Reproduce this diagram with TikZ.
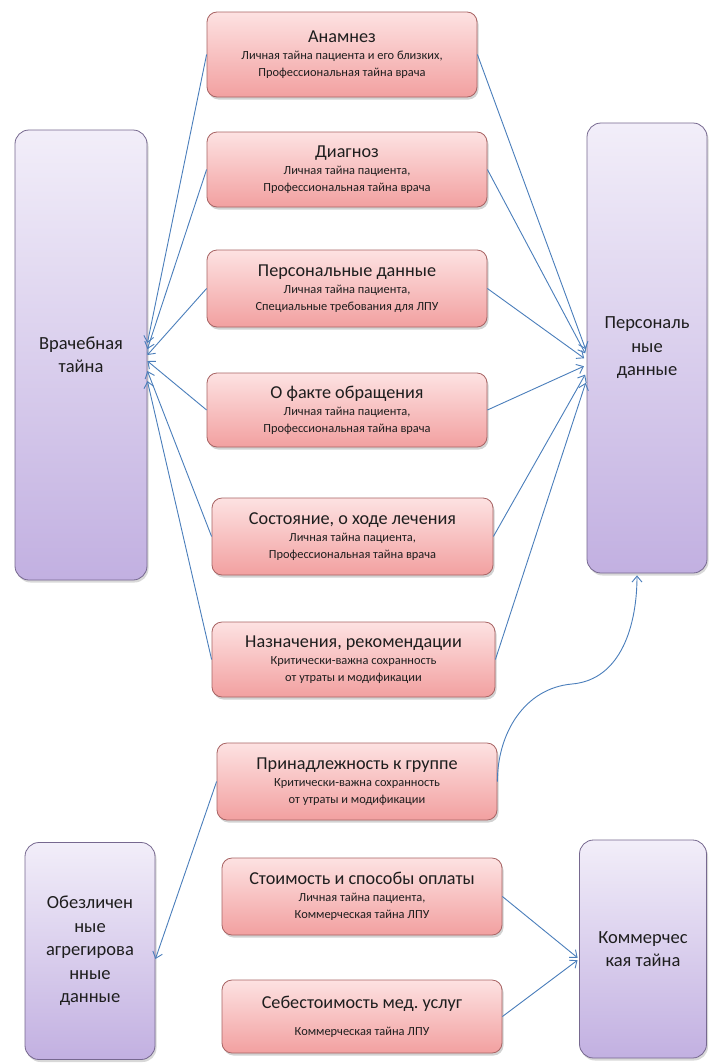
\documentclass[tikz,border=0pt]{standalone}
\usepackage{fontspec}
\setmainfont{Carlito}
\usetikzlibrary{arrows.meta,shadows}
\definecolor{redtop}{HTML}{FDE2E2}
\definecolor{redbot}{HTML}{F2A0A0}
\definecolor{redline}{HTML}{A86464}
\definecolor{purtop}{HTML}{F2EEF9}
\definecolor{purbot}{HTML}{C2B0E1}
\definecolor{purline}{HTML}{76688F}
\definecolor{arrowblue}{HTML}{4A7EBB}
\definecolor{txt}{HTML}{1E1E1E}
\frenchspacing
\newcommand{\ttl}[1]{{\fontsize{18.2}{20}\selectfont #1}}
\begin{document}
\begin{tikzpicture}[x=1pt,y=-1pt,
  redbox/.style={draw=redline, line width=0.8pt, rounded corners=10pt,
    top color=redtop, bottom color=redbot, inner sep=0pt, align=center,
    text=txt, font=\fontsize{12.4}{17}\selectfont,
    drop shadow={opacity=0.35, shadow xshift=1.5pt, shadow yshift=-2.5pt}},
  purbox/.style={draw=purline, line width=0.8pt, rounded corners=14pt,
    top color=purtop, bottom color=purbot, inner sep=0pt, align=center,
    text=txt, font=\fontsize{18.5}{23.5}\selectfont,
    drop shadow={opacity=0.3, shadow xshift=1.5pt, shadow yshift=-2.5pt}},
  conn/.style={draw=arrowblue, line width=0.9pt,
    -{Straight Barb[length=6pt,width=10pt]}}
]
\useasboundingbox[fill=white] (0,0) rectangle (709,1063);

% purple boxes
\node[purbox, minimum width=132pt, minimum height=450pt] (L1) at (81,355) {Врачебная\\тайна};
\node[purbox, minimum width=120pt, minimum height=450pt] (R1) at (647,348) {Персональ\\ные\\данные};
\node[purbox, minimum width=130pt, minimum height=217pt] (L2) at (90,951) {Обезличен\\ные\\агрегирова\\нные\\данные};
\node[purbox, minimum width=127pt, minimum height=218pt] (R2) at (643,949) {Коммерчес\\кая тайна};

% red boxes
\node[redbox, minimum width=270pt, minimum height=85pt] (b1) at (342,54.5)
  {\ttl{Анамнез}\\Личная тайна пациента и его близких,\\Профессиональная тайна врача};
\node[redbox, minimum width=280pt, minimum height=75pt] (b2) at (347,169.5)
  {\ttl{Диагноз}\\Личная тайна пациента,\\Профессиональная тайна врача};
\node[redbox, minimum width=280pt, minimum height=77pt] (b3) at (347,288.5)
  {\ttl{Персональные данные}\\Личная тайна пациента,\\Специальные требования для ЛПУ};
\node[redbox, minimum width=280pt, minimum height=74pt] (b4) at (347,410)
  {\ttl{О факте обращения}\\Личная тайна пациента,\\Профессиональная тайна врача};
\node[redbox, minimum width=281pt, minimum height=77pt] (b5) at (352.5,536.5)
  {\ttl{Состояние, о ходе лечения}\\Личная тайна пациента,\\Профессиональная тайна врача};
\node[redbox, minimum width=283pt, minimum height=75pt] (b6) at (353.5,659.5)
  {\ttl{Назначения, рекомендации}\\Критически-важна сохранность\\от утраты и модификации};
\node[redbox, minimum width=280pt, minimum height=77pt] (b7) at (357,781.5)
  {\ttl{Принадлежность к группе}\\Критически-важна сохранность\\от утраты и модификации};
\node[redbox, minimum width=280pt, minimum height=77pt] (b8) at (362,896.5)
  {\ttl{Стоимость и способы оплаты}\\Личная тайна пациента,\\Коммерческая тайна ЛПУ};
\node[redbox, minimum width=280pt, minimum height=73pt] (b9) at (362,1016.5)
  {\ttl{Себестоимость мед. услуг}\\[10pt]Коммерческая тайна ЛПУ};

% connectors to Врачебная тайна
\draw[conn] (b1.west) -- ([yshift=12pt]L1.east);
\draw[conn] (b2.west) -- ([yshift=6pt]L1.east);
\draw[conn] (b3.west) -- (L1.east);
\draw[conn] (b4.west) -- ([yshift=-6pt]L1.east);
\draw[conn] (b5.west) -- ([yshift=-16pt]L1.east);
\draw[conn] (b6.west) -- ([yshift=-26pt]L1.east);

% connectors to Персональные данные
\draw[conn, shorten >=3pt] (b1.east) -- ([yshift=-4pt]R1.west);
\draw[conn, shorten >=3pt] (b2.east) -- ([yshift=-8pt]R1.west);
\draw[conn, shorten >=3pt] (b3.east) -- ([yshift=-12pt]R1.west);
\draw[conn, shorten >=3pt] (b4.east) -- ([yshift=-17pt]R1.west);
\draw[conn, shorten >=3pt] (b5.east) -- ([yshift=-24pt]R1.west);
\draw[conn, shorten >=3pt] (b6.east) -- ([yshift=-32pt]R1.west);

% Принадлежность к группе
\coordinate (mid) at (572,684);
\draw[conn, shorten >=2pt] (b7.east) to[out=90,in=185] (mid) to[out=5,in=-90] ([xshift=-10pt]R1.south);
\draw[conn] (b7.west) -- ([yshift=-8pt]L2.east);

% Коммерческая тайна
\draw[conn, shorten >=2pt] (b8.east) -- ([yshift=-10pt]R2.west);
\draw[conn, shorten >=2pt] (b9.east) -- ([yshift=-10pt]R2.west);
\end{tikzpicture}
\end{document}
